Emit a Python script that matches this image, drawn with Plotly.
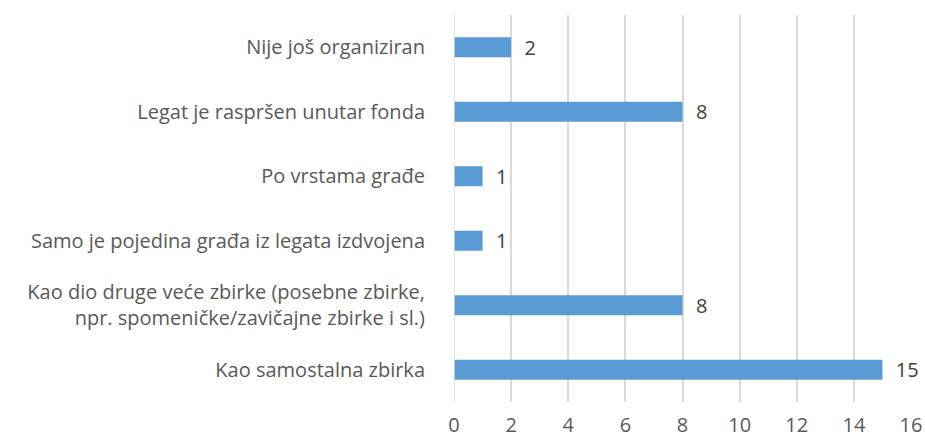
import plotly.graph_objects as go

categories = [
    "Kao samostalna zbirka",
    "Kao dio druge veće zbirke (posebne zbirke,<br>npr. spomeničke/zavičajne zbirke i sl.)",
    "Samo je pojedina građa iz legata izdvojena",
    "Po vrstama građe",
    "Legat je raspršen unutar fonda",
    "Nije još organiziran",
]
values = [15, 8, 1, 1, 8, 2]
x_ticks = [0, 2, 4, 6, 8, 10, 12, 14, 16]

FONT = "Open Sans, Liberation Sans, sans-serif"
FS = 20

fig = go.Figure(
    go.Bar(
        y=categories,
        x=values,
        orientation="h",
        marker=dict(color="#5b9bd5", line=dict(width=0)),
        text=["\u00a0\u00a0" + str(v) for v in values],
        textposition="outside",
        constraintext="none",
        textfont=dict(family=FONT, size=FS, color="#404040"),
        cliponaxis=False,
    )
)

fig.update_layout(
    width=925,
    height=441,
    margin=dict(l=454, r=14, t=15, b=39),
    paper_bgcolor="white",
    plot_bgcolor="white",
    bargap=0.69,
    showlegend=False,
    font=dict(family=FONT, size=FS, color="#595959"),
)
fig.update_xaxes(
    range=[0, 16],
    tickvals=x_ticks,
    ticktext=[str(t) for t in x_ticks],
    showgrid=True,
    gridcolor="#d9d9d9",
    gridwidth=1.5,
    zeroline=False,
    showline=False,
    ticks="",
    ticklabelstandoff=9,
    tickfont=dict(family=FONT, size=FS, color="#595959"),
    automargin=False,
    fixedrange=True,
)
fig.update_yaxes(
    categoryorder="array",
    categoryarray=categories,
    showgrid=False,
    zeroline=False,
    showline=False,
    ticks="",
    ticklabelstandoff=28,
    tickfont=dict(family=FONT, size=FS, color="#595959"),
    automargin=False,
    fixedrange=True,
)
fig.add_vline(x=0, line=dict(color="#d9d9d9", width=1.5))

fig.write_html("out.html")
